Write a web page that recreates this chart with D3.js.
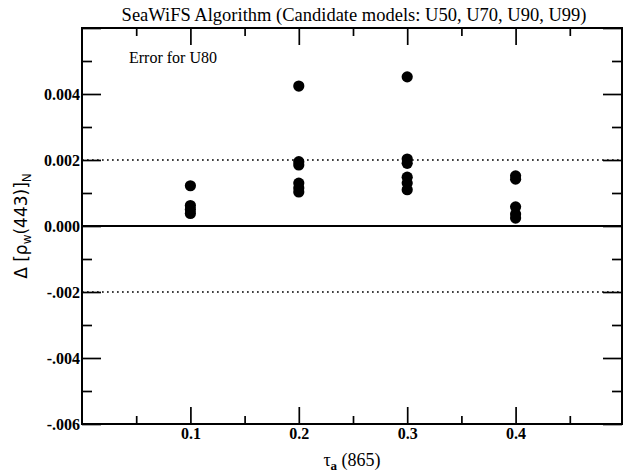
<!DOCTYPE html>
<html>
<head>
<meta charset="utf-8">
<script src="https://cdn.jsdelivr.net/npm/d3@7"></script>
<style>
  body { margin: 0; background: #fff; }
  svg { display: block; }
</style>
</head>
<body>
<div id="chart"></div>
<script>
// tau_a(865) values and the error of each candidate run at that tau
const tau = [0.1, 0.2, 0.3, 0.4];
const err01 = [0.00122, 0.00062, 0.00050, 0.00038];
const err02 = [0.00424, 0.00195, 0.00185, 0.00130, 0.00115, 0.00103];
const err03 = [0.00452, 0.00203, 0.00190, 0.00148, 0.00130, 0.00110];
const err04 = [0.00152, 0.00142, 0.00058, 0.00036, 0.00024];

const xMajor = [0.1, 0.2, 0.3, 0.4];
const xMinor = [0.05, 0.15, 0.25, 0.35, 0.45];
const yMajor = [-0.006, -0.004, -0.002, 0, 0.002, 0.004, 0.006];
const yMinor = [-0.005, -0.003, -0.001, 0.001, 0.003, 0.005];
const yLabels = ['-.006', '-.004', '-.002', '0.000', '0.002', '0.004', ''];
const refLines = [0.002, -0.002];

const width = 624, height = 474;
const pLeft = 82, pRight = 622, pTop = 28, pBottom = 424;
const serif = '"Liberation Serif", "Times New Roman", serif';

const svg = d3.select('#chart').append('svg')
  .attr('width', width)
  .attr('height', height);

const x = d3.scaleLinear().domain([0, 0.5]).range([pLeft, pRight + 2]);
const y = d3.scaleLinear().domain([-0.006, 0.006]).range([pBottom, pTop]);

// title
svg.append('text')
  .attr('x', 354).attr('y', 21)
  .attr('text-anchor', 'middle')
  .attr('font-family', serif)
  .attr('font-size', 18.5)
  .text('SeaWiFS Algorithm (Candidate models: U50, U70, U90, U99)');

// dotted reference lines and zero line
svg.selectAll('.ref')
  .data(refLines)
  .enter().append('line')
  .attr('x1', pLeft).attr('x2', pRight)
  .attr('y1', d => y(d)).attr('y2', d => y(d))
  .attr('stroke', '#000')
  .attr('stroke-width', 1.7)
  .attr('stroke-dasharray', '1.7,3.3');

svg.append('line')
  .attr('x1', pLeft).attr('x2', pRight)
  .attr('y1', y(0)).attr('y2', y(0))
  .attr('stroke', '#000').attr('stroke-width', 2.2);

// axes: inward ticks on all four sides
function styleAxis(g) {
  g.select('.domain').remove();
  g.selectAll('.tick line').attr('stroke', '#000').attr('stroke-width', 1.7);
}
function styleLabels(g) {
  g.select('.domain').remove();
  g.attr('font-family', serif).attr('font-size', 16).attr('font-weight', 'bold');
  g.selectAll('.tick text').attr('fill', '#000');
}

svg.append('g').attr('transform', `translate(0,${pBottom})`)
  .call(d3.axisTop(x).tickValues(xMajor).tickSize(17).tickFormat(''))
  .call(styleAxis);
svg.append('g').attr('transform', `translate(0,${pBottom})`)
  .call(d3.axisTop(x).tickValues(xMinor).tickSize(8).tickFormat(''))
  .call(styleAxis);
svg.append('g').attr('transform', `translate(0,${pTop})`)
  .call(d3.axisBottom(x).tickValues(xMajor).tickSize(17).tickFormat(''))
  .call(styleAxis);
svg.append('g').attr('transform', `translate(0,${pTop})`)
  .call(d3.axisBottom(x).tickValues(xMinor).tickSize(8).tickFormat(''))
  .call(styleAxis);

// x tick labels
svg.append('g').attr('transform', `translate(0,${pBottom})`)
  .call(d3.axisBottom(x).tickValues(xMajor).tickSize(0).tickPadding(3).tickFormat(d3.format('.1f')))
  .call(styleLabels)
  .call(g => g.selectAll('.tick text').attr('dy', null).attr('y', 15));

svg.append('g').attr('transform', `translate(${pLeft},0)`)
  .call(d3.axisRight(y).tickValues(yMajor).tickSize(19).tickFormat(''))
  .call(styleAxis);
svg.append('g').attr('transform', `translate(${pLeft},0)`)
  .call(d3.axisRight(y).tickValues(yMinor).tickSize(10).tickFormat(''))
  .call(styleAxis);
svg.append('g').attr('transform', `translate(${pRight},0)`)
  .call(d3.axisLeft(y).tickValues(yMajor).tickSize(19).tickFormat(''))
  .call(styleAxis);
svg.append('g').attr('transform', `translate(${pRight},0)`)
  .call(d3.axisLeft(y).tickValues(yMinor).tickSize(10).tickFormat(''))
  .call(styleAxis);

// y tick labels
svg.append('g').attr('transform', `translate(${pLeft},0)`)
  .call(d3.axisLeft(y).tickValues(yMajor).tickSize(0).tickPadding(2)
    .tickFormat((d, i) => yLabels[i]))
  .call(styleLabels);

// frame
svg.append('rect')
  .attr('x', pLeft).attr('y', pTop)
  .attr('width', pRight - pLeft).attr('height', pBottom - pTop)
  .attr('fill', 'none').attr('stroke', '#000').attr('stroke-width', 2);

// points
const groups = [err01, err02, err03, err04];
const points = [];
groups.forEach((vals, i) => vals.forEach(v => points.push({ t: tau[i], e: v })));

svg.selectAll('.pt')
  .data(points)
  .enter().append('circle')
  .attr('class', 'pt')
  .attr('cx', d => x(d.t))
  .attr('cy', d => y(d.e))
  .attr('r', 5.6)
  .attr('fill', '#000');

// annotation
svg.append('text')
  .attr('x', 129).attr('y', 63)
  .attr('font-family', serif)
  .attr('font-size', 16)
  .text('Error for U80');

// x label
const xl = svg.append('text')
  .attr('x', 352).attr('y', 466)
  .attr('text-anchor', 'middle')
  .attr('font-family', serif)
  .attr('font-size', 18);
xl.append('tspan').text('\u03c4');
xl.append('tspan').attr('dy', 4).attr('font-size', 13).attr('font-weight', 'bold').text('a');
xl.append('tspan').attr('dy', -4).text(' (865)');

// y label
const yl = svg.append('text')
  .attr('transform', 'translate(27,226) rotate(-90)')
  .attr('text-anchor', 'middle')
  .attr('font-family', '"DejaVu Sans", sans-serif')
  .attr('font-size', 17);
yl.append('tspan').text('\u0394 [\u03c1');
yl.append('tspan').attr('dy', 4).attr('font-size', 12).text('w');
yl.append('tspan').attr('dy', -4).text('(443)]');
yl.append('tspan').attr('dy', 4).attr('font-size', 12).text('N');
</script>
</body>
</html>
